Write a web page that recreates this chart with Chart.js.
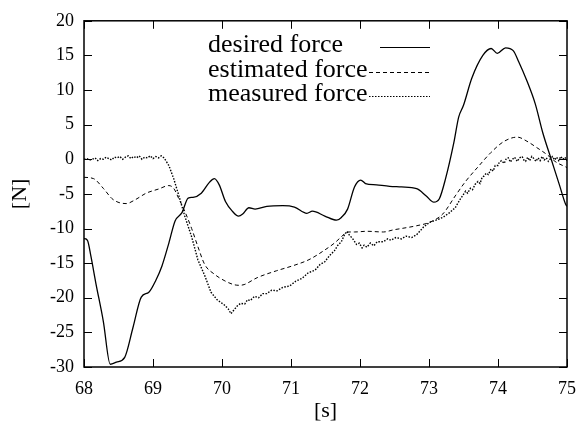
<!DOCTYPE html>
<html>
<head>
<meta charset="utf-8">
<script src="https://cdn.jsdelivr.net/npm/chart.js@4/dist/chart.umd.min.js"></script>
<style>
    html, body { margin: 0; padding: 0; background: #fff; }
    #wrap { width: 587px; height: 433px; }
</style>
</head>
<body>
<div id="wrap"><canvas id="forceChart" width="587" height="433"></canvas></div>
<script>
// time [s] and force [N]
const desiredT = [68, 68.05, 68.1, 68.17, 68.28, 68.38, 68.47, 68.59, 68.71, 68.83, 68.94, 69.04, 69.13, 69.23, 69.32, 69.42, 69.51, 69.58, 69.7, 69.82, 69.89, 69.96, 70.05, 70.15, 70.24, 70.3, 70.39, 70.48, 70.65, 70.88, 71.05, 71.23, 71.31, 71.49, 71.66, 71.73, 71.82, 71.92, 72.01, 72.08, 72.24, 72.43, 72.6, 72.82, 72.96, 73.07, 73.15, 73.24, 73.36, 73.43, 73.5, 73.62, 73.78, 73.9, 73.99, 74.11, 74.22, 74.3, 74.42, 74.54, 74.65, 74.77, 74.89, 74.98, 75];
const desiredF = [-11.45, -11.7, -14, -17.8, -23.4, -29.6, -29.3, -28.6, -24.3, -19.9, -19.2, -17.5, -15.4, -12.1, -8.9, -7.7, -5.6, -5.5, -4.9, -3.3, -2.8, -3.7, -6.1, -7.5, -8.2, -7.9, -7.0, -7.2, -6.8, -6.7, -6.9, -7.8, -7.5, -8.2, -8.8, -8.4, -7.2, -4.0, -3.0, -3.5, -3.7, -3.9, -4.0, -4.25, -5.3, -6.2, -5.7, -2.8, 2.4, 6.1, 7.8, 11.7, 15.0, 16.0, 15.3, 16.1, 15.7, 14.1, 11.3, 8.0, 3.8, 0.05, -3.7, -6.5, -6.8];

const estimatedT = [68, 68.14, 68.28, 68.42, 68.61, 68.75, 68.9, 69.08, 69.23, 69.3, 69.37, 69.46, 69.56, 69.65, 69.75, 69.89, 70.03, 70.17, 70.25, 70.32, 70.51, 70.79, 71.02, 71.26, 71.49, 71.63, 71.73, 71.82, 71.92, 72.1, 72.34, 72.48, 72.6, 72.82, 73.01, 73.2, 73.38, 73.53, 73.71, 73.9, 74.09, 74.28, 74.42, 74.56, 74.7, 74.84, 74.98, 75];
const estimatedF = [-2.6, -2.8, -4.2, -5.8, -6.4, -5.8, -4.9, -4.3, -3.8, -4.2, -5.6, -7.5, -10, -12.6, -15.2, -16.6, -17.5, -18.1, -18.2, -18.1, -17.1, -16.1, -15.4, -14.5, -13.1, -12.1, -11.2, -10.5, -10.5, -10.4, -10.5, -10.2, -10.0, -9.6, -9.1, -7.9, -5.3, -3.2, -1.1, 1.0, 2.6, 3.2, 2.6, 1.7, 0.75, -0.4, -1.1, -1.2];

const measuredT = [68, 68.04, 68.08, 68.12, 68.16, 68.2, 68.24, 68.28, 68.32, 68.36, 68.4, 68.44, 68.48, 68.52, 68.56, 68.6, 68.64, 68.68, 68.72, 68.76, 68.8, 68.84, 68.88, 68.92, 68.96, 69.0, 69.04, 69.08, 69.12, 69.16,
    69.23, 69.3, 69.37, 69.46, 69.56, 69.65, 69.75, 69.84, 69.93, 70.03, 70.09, 70.13, 70.17,
    70.22, 70.27, 70.33, 70.37, 70.41, 70.47, 70.53, 70.59, 70.65, 70.72, 70.8, 70.88, 70.98, 71.07, 71.16, 71.25, 71.35, 71.42, 71.49, 71.56, 71.63, 71.68, 71.73, 71.77, 71.81,
    71.85, 71.89, 71.95, 71.99, 72.03, 72.06, 72.1, 72.15, 72.2, 72.25, 72.34, 72.4, 72.45, 72.52, 72.6, 72.67, 72.75, 72.82, 72.92, 73.01, 73.1, 73.2, 73.3, 73.38, 73.45,
    73.53, 73.56, 73.6, 73.63, 73.67, 73.71, 73.74, 73.77, 73.8, 73.83, 73.86, 73.9, 73.93, 73.96, 74.0, 74.02, 74.05, 74.09, 74.12, 74.15, 74.18, 74.2, 74.24, 74.28, 74.31, 74.35, 74.38, 74.4, 74.43, 74.46, 74.49, 74.52, 74.55, 74.58, 74.61, 74.64, 74.67, 74.7, 74.73, 74.76, 74.79, 74.82, 74.85, 74.88, 74.91, 74.94, 74.97, 75];
const measuredF = [0.0, 0.1, -0.1, 0.0, 0.2, -0.2, 0.1, 0.0, 0.3, 0.1, -0.1, 0.3, 0.2, 0.4, 0.0, 0.3, 0.5, 0.1, 0.4, 0.2, 0.5, 0.0, 0.3, 0.2, 0.5, 0.1, 0.4, 0.2, 0.5, 0.2,
    -0.9, -2.8, -5.1, -8.2, -11.2, -14.5, -16.8, -19.2, -20.3, -21.0, -21.6, -22.3, -21.8,
    -21.2, -20.8, -20.9, -20.3, -20.4, -19.8, -20.0, -19.4, -19.4, -18.9, -19.0, -18.5, -18.3, -17.6, -17.2, -16.4, -16.0, -15.2, -14.8, -13.9, -13.2, -12.4, -11.9, -11.0, -10.4,
    -11.0, -11.4, -12.3, -12.1, -12.8, -12.4, -12.7, -12.1, -12.5, -11.9, -11.9, -11.5, -11.7, -11.3, -11.5, -11.1, -11.3, -10.9, -9.8, -9.1, -8.8, -8.4, -7.7, -7.0, -5.8,
    -4.6, -4.9, -4.2, -4.4, -3.6, -3.2, -3.5, -2.6, -2.4, -2.0, -2.2, -1.4, -1.7, -0.9, -0.9, -0.4, -0.2, -0.6, 0.1, 0.2, -0.4, -0.1, 0.3, -0.3, 0.2, 0.4, -0.2, -0.3, 0.3, -0.2, 0.4, 0.1, -0.3, 0.2, -0.2, 0.4, -0.1, 0.2, -0.3, 0.1, 0.4, -0.1, 0.3, -0.2, 0.4, 0.0, 0.3, -0.2];

const seriesLabels = ["desired force", "estimated force", "measured force"];
const xTicks = [68, 69, 70, 71, 72, 73, 74, 75];
const yTicks = [-30, -25, -20, -15, -10, -5, 0, 5, 10, 15, 20];

const serif = "'Liberation Serif', 'DejaVu Serif', serif";

function pts(ts, vs) {
    return ts.map((t, i) => ({ x: t, y: vs[i] }));
}

const dashes = [[], [4, 3], [1.5, 1.5]];

// gnuplot style frame with inward ticks on all four sides
const framePlugin = {
    id: "frame",
    afterDraw(chart) {
        const ctx = chart.ctx;
        const a = chart.chartArea;
        const xs = chart.scales.x;
        const ys = chart.scales.y;
        ctx.save();
        ctx.strokeStyle = "#000";
        ctx.lineWidth = 1;
        xTicks.forEach((t) => {
            const px = Math.round(xs.getPixelForValue(t)) + 0.5;
            ctx.beginPath();
            ctx.moveTo(px, a.bottom); ctx.lineTo(px, a.bottom - 8);
            ctx.moveTo(px, a.top); ctx.lineTo(px, a.top + 8);
            ctx.stroke();
        });
        yTicks.forEach((v) => {
            const py = Math.round(ys.getPixelForValue(v)) + 0.5;
            ctx.beginPath();
            ctx.moveTo(a.left, py); ctx.lineTo(a.left + 8, py);
            ctx.moveTo(a.right, py); ctx.lineTo(a.right - 8, py);
            ctx.stroke();
        });
        ctx.lineWidth = 1.5;
        ctx.strokeRect(a.left, a.top, a.right - a.left, a.bottom - a.top);

        // key
        ctx.font = "26px " + serif;
        ctx.fillStyle = "#000";
        ctx.textBaseline = "alphabetic";
        const base = [52, 77, 101];
        const lineY = [47, 72, 96];
        const lineStart = [380, 369, 369];
        seriesLabels.forEach((lab, i) => {
            ctx.fillText(lab, 208, base[i]);
            ctx.beginPath();
            ctx.lineWidth = 1;
            ctx.setLineDash(dashes[i]);
            ctx.moveTo(lineStart[i], lineY[i] + 0.5);
            ctx.lineTo(430, lineY[i] + 0.5);
            ctx.stroke();
        });
        ctx.restore();
    }
};

new Chart(document.getElementById("forceChart"), {
    type: "line",
    data: {
        datasets: [
            {
                label: seriesLabels[0],
                data: pts(desiredT, desiredF),
                borderColor: "#000",
                borderWidth: 1.3,
                cubicInterpolationMode: "monotone",
            },
            {
                label: seriesLabels[1],
                data: pts(estimatedT, estimatedF),
                borderColor: "#000",
                borderWidth: 1,
                borderDash: dashes[1],
                cubicInterpolationMode: "monotone",
            },
            {
                label: seriesLabels[2],
                data: pts(measuredT, measuredF),
                borderColor: "#000",
                borderWidth: 1.4,
                borderDash: dashes[2],
            },
        ],
    },
    options: {
        responsive: false,
        animation: false,
        layout: { padding: { top: 12, right: 10, left: 0, bottom: 0 } },
        elements: { point: { radius: 0 } },
        plugins: {
            legend: { display: false },
            tooltip: { enabled: false },
        },
        scales: {
            x: {
                type: "linear",
                min: 68,
                max: 75,
                afterFit: (s) => { s.height = 66; },
                afterBuildTicks: (s) => { s.ticks = xTicks.map((v) => ({ value: v })); },
                grid: { display: false, drawTicks: false },
                border: { display: false },
                ticks: {
                    color: "#000",
                    padding: 11,
                    maxRotation: 0,
                    font: { family: serif, size: 18 },
                },
                title: {
                    display: true,
                    text: "[s]",
                    color: "#000",
                    padding: { top: 0, bottom: 9 },
                    font: { family: serif, size: 22 },
                },
            },
            y: {
                type: "linear",
                min: -30,
                max: 20,
                afterFit: (s) => { s.width = 84; },
                afterBuildTicks: (s) => { s.ticks = yTicks.map((v) => ({ value: v })); },
                grid: { display: false, drawTicks: false },
                border: { display: false },
                ticks: {
                    color: "#000",
                    padding: 10,
                    font: { family: serif, size: 18 },
                },
                title: {
                    display: true,
                    text: "[N]",
                    color: "#000",
                    padding: { top: 7, bottom: 0 },
                    font: { family: serif, size: 22 },
                },
            },
        },
    },
    plugins: [framePlugin],
});
</script>
</body>
</html>
